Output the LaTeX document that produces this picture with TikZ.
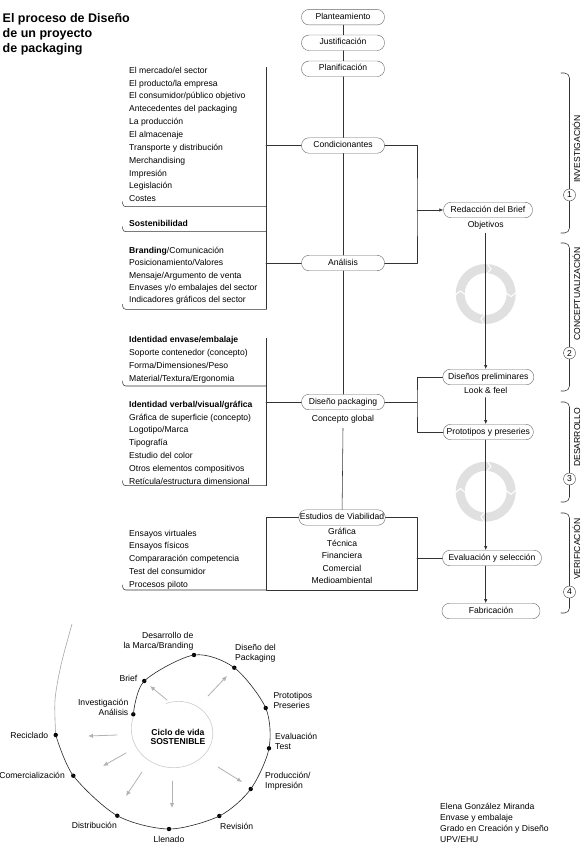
\documentclass[tikz,border=0pt]{standalone}
\usepackage{fontspec}
\setmainfont{Liberation Sans}
\usetikzlibrary{arrows.meta,positioning}
\newcommand\letra{\fontsize{8.6}{10}\selectfont}
\tikzset{
  etapa/.style={draw=black!60, fill=white, rounded corners=7.5pt, minimum width=83pt, minimum height=15.5pt, inner sep=1pt, text height=6.1pt, text depth=1.8pt, font=\letra},
  nota/.style={inner sep=0pt, font=\letra},
  linea/.style={black!80, line width=0.55pt},
  flecha/.style={linea, -{Latex[length=4pt,width=3.4pt]}},
  radio/.style={black!30, line width=0.8pt, -{Latex[length=5pt,width=4.4pt]}},
  numero/.style={circle, draw=black!75, fill=white, inner sep=0pt, minimum size=12pt, font=\letra},
  punto/.style={circle, fill=black, inner sep=0pt, minimum size=4.4pt},
}
\begin{document}
\begin{tikzpicture}[x=1pt, y=-1pt, line join=round, line cap=round]
\path[use as bounding box, fill=white] (0,0) rectangle (587,850);

\foreach \t [count=\i] in {{El proceso de Diseño},{de un proyecto},{de packaging}}
  \node[anchor=base west, inner sep=0pt, font=\fontsize{12.5}{15}\bfseries] (titulo-\i) at (2.5,{22.5+15.2*(\i-1)}) {\t};

% eje central
\node[etapa] (plant) at (343,17.2) {Planteamiento};
\node[etapa] (justif) at (343,42.8) {Justificación};
\node[etapa] (planif) at (343,68.8) {Planificación};
\node[etapa] (condic) at (343,145.5) {Condicionantes};
\node[etapa] (analisis) at (343,263) {Análisis};
\node[etapa] (disenio) at (343,402) {Diseño packaging};
\node[nota, anchor=base] (concepto) at (343,421.7) {Concepto global};
\node[etapa] (estudios) at (342,517.5) {Estudios de Viabilidad};
\foreach \t [count=\i] in {Gráfica,Técnica,Financiera,Comercial,Medioambiental}
  \node[nota, anchor=base] (via-\i) at (342,{534.3+12.25*(\i-1)}) {\t};
\draw[linea] (plant) -- (justif) -- (planif) -- (condic) -- (analisis) -- (disenio);
\draw[linea] ([yshift=-4.5pt]concepto.south) -- (estudios);

% listas
\foreach \t [count=\i] in {{El mercado/el sector},{El producto/la empresa},{El consumidor/público objetivo},{Antecedentes del packaging},{La producción},{El almacenaje},{Transporte y distribución},{Merchandising},{Impresión},{Legislación},{Costes}}
  \node[nota, anchor=base west] (cond-\i) at (129,{73.3+12.84*(\i-1)}) {\t};
\node[nota, anchor=base west, font=\letra\bfseries] (sost) at (129,226.7) {Sostenibilidad};
\foreach \t [count=\i] in {{\textbf{Branding}/Comunicación},{Posicionamiento/Valores},{Mensaje/Argumento de venta},{Envases y/o embalajes del sector},{Indicadores gráficos del sector}}
  \node[nota, anchor=base west] (anal-\i) at (129,{253.5+12.35*(\i-1)}) {\t};
\foreach \t [count=\i] in {{\textbf{Identidad envase/embalaje}},{Soporte contenedor (concepto)},{Forma/Dimensiones/Peso},{Material/Textura/Ergonomia}}
  \node[nota, anchor=base west] (env-\i) at (129,{342.7+13*(\i-1)}) {\t};
\foreach \t [count=\i] in {{\textbf{Identidad verbal/visual/gráfica}},{Gráfica de superficie (concepto)},{Logotipo/Marca},{Tipografía},{Estudio del color},{Otros elementos compositivos},{Retícula/estructura dimensional}}
  \node[nota, anchor=base west] (graf-\i) at (129,{407.3+12.8*(\i-1)}) {\t};
\foreach \t [count=\i] in {{Ensayos virtuales},{Ensayos físicos},{Compararación competencia},{Test del consumidor},{Procesos piloto}}
  \node[nota, anchor=base west] (ens-\i) at (129,{536+12.8*(\i-1)}) {\t};

\coordinate (barra-a) at (266,67.3);
\coordinate (barra-b) at (266,338.3);
\draw[linea] (barra-a) -- (266,309.3);
\draw[linea] (barra-b) -- (266,485.7);
\draw[linea] (condic.west) -- (condic.west -| barra-a);
\draw[linea] (analisis.west) -- (analisis.west -| barra-a);
\draw[linea] (disenio.west) -- (disenio.west -| barra-b);
\foreach \y in {206.7,231.7,309.3,386,485.7,590}
  \draw[linea, rounded corners=3pt] (122.7,\y-5) -- (122.7,\y) -- (266,\y);
\coordinate (est-esq) at (417,590);
\draw[linea] (estudios.west) -| (266,590) -- (est-esq) |- (estudios.east);

% columna derecha
\node[etapa, minimum width=89pt] (brief) at (488,210) {Redacción del Brief};
\node[nota, anchor=base] (objetivos) at (485.7,227.3) {Objetivos};
\node[etapa, minimum width=91pt] (dprelim) at (488.3,377) {Diseños preliminares};
\node[nota, anchor=base] (look) at (485.7,393.3) {Look \& feel};
\node[etapa, minimum width=90pt] (proto) at (488.3,432) {Prototipos y preseries};
\node[etapa, minimum width=99pt] (evalua) at (492,558) {Evaluación y selección};
\node[etapa, minimum width=98pt] (fabric) at (491,611) {Fabricación};

\coordinate (anillo-1) at (485.7,294);
\coordinate (anillo-2) at (485.7,491.7);
\foreach \c in {anillo-1,anillo-2} {
  \draw[black!12, line width=9pt] (\c) circle[radius=25.5];
  \foreach \a in {-87,-3,92,178}
    \draw[white, line width=1pt] ([shift={(\a:20.5)}]\c) -- ([shift={(\a+9:25.5)}]\c) -- ([shift={(\a:30.5)}]\c);
}

\coordinate (bus-a) at (417,210);
\coordinate (bus-b) at (417,402);
\coordinate (eje) at (485.7,0);
\draw[linea] (condic.east) -| (bus-a) |- (analisis.east);
\draw[flecha] (bus-a) -- (brief);
\draw[linea] (disenio.east) -- (bus-b);
\draw[linea] (dprelim.west) -| (bus-b) |- (proto.west);
\draw[linea] (evalua.west) -- (evalua.west -| est-esq);
\draw[flecha] ([yshift=-4pt]objetivos.south) -- (objetivos.south |- dprelim.north);
\draw[flecha] ([yshift=-4pt]look.south) -- (look.south |- proto.north);
\draw[flecha] (proto.south -| eje) -- (evalua.north -| eje);
\draw[flecha] (evalua.south -| eje) -- (fabric.north -| eje);

% fases
\foreach \ya/\yb/\yc/\n/\t in {73/233/195/1/INVESTIGACIÓN,243/391/353/2/CONCEPTUALIZACIÓN,402/502/479/3/DESARROLLO,513/613/592/4/VERIFICACIÓN} {
  \draw[linea, rounded corners=5pt] (561,\ya) -- (569.5,\ya) -- (569.5,\yb) -- (561,\yb);
  \node[numero] (fase-\n) at (569.5,\yc) {\n};
  \node[nota, rotate=90, anchor=base west] (nombre-\n) at (580,\yc-12) {\t};
}

% ciclo de vida
\draw[black!20, line width=0.6pt, domain=-108:200, samples=80, smooth] plot ({176+(32+13.5*(\x+108)/308)*cos(\x)}, {731+0.9*(32+13.5*(\x+108)/308)*sin(\x)});
\draw[black!35, line width=0.6pt] plot[smooth] coordinates {(55.7,735) (55,700) (61,665) (72,624)};
\foreach \x/\y [count=\i] in {133.3/714.3,144.3/681,194/655,234.3/667.7,265.7/708,269/748.3,250.7/789,219.3/816,169/829,117.3/815.7,73.3/775.7,55.7/735}
  \node[punto] (ciclo-\i) at (\x,\y) {};
\draw[black!85, line width=0.6pt] plot[smooth] coordinates {(ciclo-1.center) (ciclo-2.center) (ciclo-3.center) (ciclo-4.center) (ciclo-5.center) (ciclo-6.center) (ciclo-7.center) (ciclo-8.center) (ciclo-9.center) (ciclo-10.center) (ciclo-11.center) (ciclo-12.center)};
\foreach \xa/\ya/\xb/\yb in {167/700/150/686,208/696/227/676,117/735/88/736,126/753/103/766,142/772/126/796,172/781/172/808,218/767/242/782}
  \draw[radio] (\xa,\ya) -- (\xb,\yb);

\node[nota, align=right, anchor=east] (et-1) at (128.5,707.5) {Investigación\\Análisis};
\node[nota, anchor=east] (et-2) at (137.5,678.5) {Brief};
\node[nota, align=right, anchor=east] (et-3) at (193.5,641) {Desarrollo de\\la Marca/Branding};
\node[nota, align=left, anchor=west] (et-4) at (235,653) {Diseño del\\Packaging};
\node[nota, align=left, anchor=west] (et-5) at (273.3,700) {Prototipos\\Preseries};
\node[nota, align=left, anchor=west] (et-6) at (275,741) {Evaluación\\Test};
\node[nota, align=left, anchor=west] (et-7) at (265,781) {Producción/\\Impresión};
\node[nota, anchor=base west] (et-8) at (220,829) {Revisión};
\node[nota, anchor=base] (et-9) at (169,842.7) {Llenado};
\node[nota, anchor=base east] (et-10) at (117,828.3) {Distribución};
\node[nota, anchor=base east] (et-11) at (65,778.3) {Comercialización};
\node[nota, anchor=base east] (et-12) at (48.3,738.3) {Reciclado};
\node[nota, align=center, font=\fontsize{8.6}{9.5}\bfseries] (ciclo) at (178,737) {Ciclo de vida\\SOSTENIBLE};

\foreach \t [count=\i] in {{Elena González Miranda},{Envase y embalaje},{Grado en Creación y Diseño},{UPV/EHU}}
  \node[nota, anchor=base west] (autor-\i) at (440,{809.3+11.2*(\i-1)}) {\t};
\end{tikzpicture}
\end{document}
